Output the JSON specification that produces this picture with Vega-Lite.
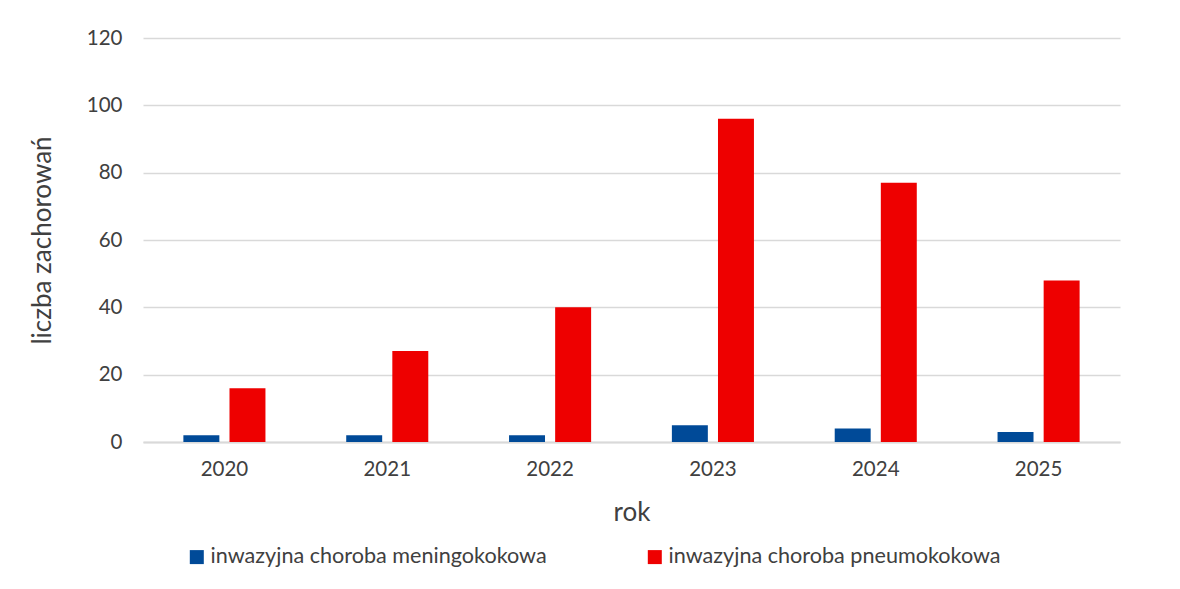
{
  "$schema": "https://vega.github.io/schema/vega-lite/v6.json",
  "width": 977,
  "height": 404,
  "padding": {"left": 143, "top": 38, "right": 60, "bottom": 147},
  "autosize": {"type": "none"},
  "background": "white",
  "config": {
    "font": "Lato",
    "view": {"stroke": null},
    "axis": {"labelColor": "#404040", "titleColor": "#404040", "labelFont": "Lato", "titleFont": "Lato", "titleFontWeight": "normal"}
  },
  "data": {
    "values": [
      {"rok": "2020", "seria": "inwazyjna choroba meningokokowa", "wartosc": 2},
      {"rok": "2020", "seria": "inwazyjna choroba pneumokokowa", "wartosc": 16},
      {"rok": "2021", "seria": "inwazyjna choroba meningokokowa", "wartosc": 2},
      {"rok": "2021", "seria": "inwazyjna choroba pneumokokowa", "wartosc": 27},
      {"rok": "2022", "seria": "inwazyjna choroba meningokokowa", "wartosc": 2},
      {"rok": "2022", "seria": "inwazyjna choroba pneumokokowa", "wartosc": 40},
      {"rok": "2023", "seria": "inwazyjna choroba meningokokowa", "wartosc": 5},
      {"rok": "2023", "seria": "inwazyjna choroba pneumokokowa", "wartosc": 96},
      {"rok": "2024", "seria": "inwazyjna choroba meningokokowa", "wartosc": 4},
      {"rok": "2024", "seria": "inwazyjna choroba pneumokokowa", "wartosc": 77},
      {"rok": "2025", "seria": "inwazyjna choroba meningokokowa", "wartosc": 3},
      {"rok": "2025", "seria": "inwazyjna choroba pneumokokowa", "wartosc": 48}
    ]
  },
  "mark": {"type": "bar", "stroke": null},
  "encoding": {
    "x": {
      "field": "rok", "type": "nominal",
      "scale": {"paddingInner": 0.496, "paddingOuter": 0.248},
      "axis": {
        "title": "rok", "titleFontSize": 26, "titlePadding": 20,
        "labelAngle": 0, "labelFontSize": 20.5, "labelPadding": 17,
        "ticks": false, "domain": true, "domainColor": "#d9d9d9", "domainWidth": 2
      }
    },
    "xOffset": {
      "field": "seria", "type": "nominal",
      "scale": {"paddingInner": 0.22, "paddingOuter": 0}
    },
    "y": {
      "field": "wartosc", "type": "quantitative",
      "scale": {"domain": [0, 120], "nice": false},
      "axis": {
        "title": "liczba zachorowań", "titleFontSize": 26, "titlePadding": 31,
        "values": [0, 20, 40, 60, 80, 100, 120],
        "labelFontSize": 20.5, "labelPadding": 21,
        "ticks": false, "domain": false,
        "grid": true, "gridColor": "#d9d9d9", "gridWidth": 1.5
      }
    },
    "color": {
      "field": "seria", "type": "nominal",
      "scale": {"domain": ["inwazyjna choroba meningokokowa", "inwazyjna choroba pneumokokowa"], "range": ["#004A98", "#EE0000"]},
      "legend": {
        "title": null, "orient": "none", "direction": "horizontal",
        "legendX": 43, "legendY": 508,
        "symbolType": "square", "symbolSize": 196, "symbolStrokeWidth": 0,
        "labelFontSize": 21.6, "labelColor": "#404040", "labelFont": "Lato", "labelOffset": 3,
        "labelLimit": 500, "columnPadding": 97
      }
    }
  }
}
